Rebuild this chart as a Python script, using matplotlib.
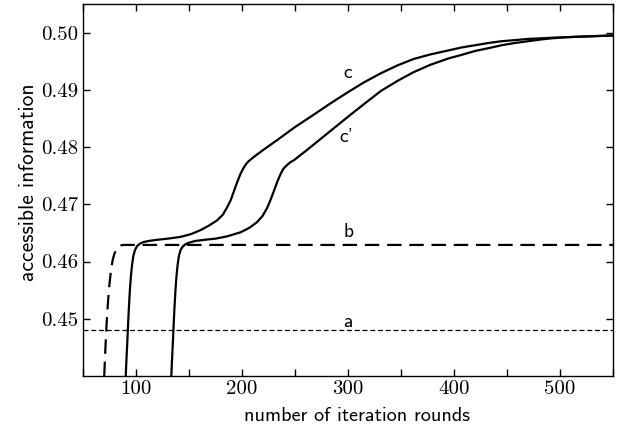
import matplotlib
matplotlib.use("Agg")
import matplotlib.pyplot as plt
from matplotlib.ticker import MultipleLocator, FormatStrFormatter

# curve a: constant level
a_level = 0.4481

# curve b (thick dashed)
b_x = [70, 70.7, 71.4, 72.2, 73, 74, 75, 76, 77, 78, 79.5, 81, 83, 85.5, 88, 92, 100, 550]
b_y = [0.4400, 0.4430, 0.4460, 0.4490, 0.4515, 0.4540, 0.4562, 0.4578, 0.4592, 0.4603,
       0.4613, 0.4620, 0.4625, 0.4628, 0.4629, 0.4629, 0.4629, 0.4629]

# curve c
c_x = [90.3, 91, 91.8, 92.5, 93.3, 94.2, 95.2, 96.3, 97.5, 99,
       101, 103.5, 107, 112, 120, 130, 142, 152, 161, 169,
       176.5, 182, 186, 189.5, 192.2, 195.5, 198.5, 201, 203.3, 205.5,
       208, 212, 220, 233, 250, 268, 284, 300, 315, 331,
       347, 362, 378, 395, 407, 420, 433, 445, 458, 470,
       482, 492, 506, 520, 535, 550]
c_y = [0.4400, 0.4430, 0.4460, 0.4490, 0.4520, 0.4550, 0.4575, 0.4595, 0.4610, 0.4620,
       0.4627, 0.4631, 0.4634, 0.4636, 0.4638, 0.4640, 0.4643, 0.4648, 0.4655, 0.4663,
       0.4672, 0.4682, 0.4695, 0.4708, 0.4722, 0.4739, 0.4753, 0.4762, 0.4769, 0.4774,
       0.4778, 0.4784, 0.4795, 0.4812, 0.4835, 0.4857, 0.4877, 0.4896, 0.4913, 0.4929,
       0.4943, 0.4954, 0.4962, 0.4969, 0.4974, 0.4978, 0.4982, 0.4985, 0.4987, 0.4989,
       0.4990, 0.4991, 0.4992, 0.4993, 0.4994, 0.4995]

# curve c'
cp_x = [133.3, 134, 134.8, 135.5, 136.3, 137.2, 138.2, 139.3, 140.5, 142,
        144, 146.5, 150, 156, 165, 175, 186, 198.5, 207, 214.3,
        219.5, 223.8, 227, 230, 233.2, 236.4, 239, 242.7, 246, 249,
        253, 260, 268, 276, 284, 300, 315, 331, 347, 362,
        378, 395, 407, 420, 433, 445, 458, 470, 482, 492,
        506, 520, 535, 550]
cp_y = [0.4400, 0.4430, 0.4460, 0.4490, 0.4520, 0.4550, 0.4575, 0.4595, 0.4610, 0.4620,
        0.4626, 0.4630, 0.4633, 0.4636, 0.4638, 0.4640, 0.4644, 0.4651, 0.4659, 0.4669,
        0.4680, 0.4694, 0.4708, 0.4723, 0.4739, 0.4753, 0.4762, 0.4769, 0.4774, 0.4777,
        0.4783, 0.4793, 0.4805, 0.4817, 0.4829, 0.4853, 0.4875, 0.4898, 0.4916, 0.4931,
        0.4944, 0.4955, 0.4961, 0.4968, 0.4973, 0.4978, 0.4982, 0.4985, 0.4988, 0.4990,
        0.4992, 0.4993, 0.4994, 0.4995]

# curve labels
labels = ['a', 'b', 'c', "c'"]
label_x = [300, 300, 300, 298]
label_y = [0.4495, 0.4651, 0.4930, 0.4818]

fig = plt.figure(figsize=(6.21, 4.30), dpi=100)
ax = fig.add_axes([0.1337, 0.1256, 0.8534, 0.8651])

ax.axhline(a_level, color='black', lw=0.9, dashes=(4, 2.2))
ax.plot(b_x, b_y, color='black', lw=1.6, dashes=(6.5, 3.5))
ax.plot(c_x, c_y, color='black', lw=1.6)
ax.plot(cp_x, cp_y, color='black', lw=1.6)

for lab, x, y in zip(labels, label_x, label_y):
    ax.text(x, y, lab, family='cmss10', fontsize=14, ha='center', va='center')

ax.set_xlim(50, 550)
ax.set_ylim(0.44, 0.505)
ax.xaxis.set_major_locator(MultipleLocator(100))
ax.xaxis.set_minor_locator(MultipleLocator(50))
ax.yaxis.set_major_formatter(FormatStrFormatter('%.2f'))
ax.set_yticks([0.45, 0.46, 0.47, 0.48, 0.49, 0.50])
ax.tick_params(which='both', direction='in', top=True, right=True, width=1.0, length=5)
ax.tick_params(axis='x', pad=3)
ax.tick_params(axis='y', pad=3.5)
for t in ax.get_xticklabels() + ax.get_yticklabels():
    t.set_family('cmr10')
    t.set_fontsize(15)
for s in ax.spines.values():
    s.set_linewidth(1.0)

ax.set_xlabel('number of iteration rounds', family='cmss10', fontsize=14.5)
ax.set_ylabel('accessible information', family='cmss10', fontsize=15.5)
ax.xaxis.label.set_va('center')
ax.yaxis.label.set_va('center')
ax.xaxis.set_label_coords(0.517, -0.1075)
ax.yaxis.set_label_coords(-0.102, 0.5215)

fig.savefig('out.png', dpi=100)
